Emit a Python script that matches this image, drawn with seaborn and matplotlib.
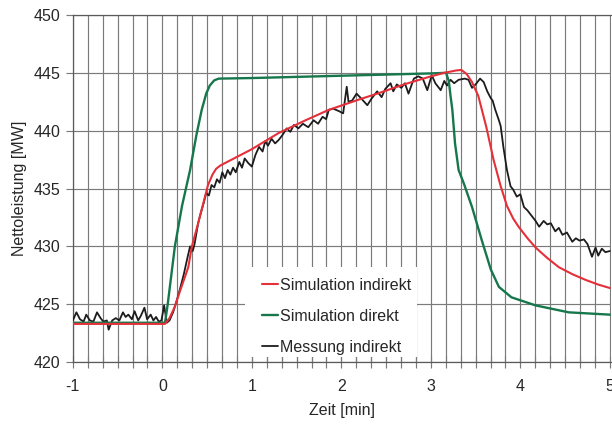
import numpy as np
import pandas as pd
import seaborn as sns
import matplotlib.pyplot as plt
from matplotlib.ticker import MultipleLocator
from matplotlib.patches import Rectangle
from matplotlib.lines import Line2D

# Simulation indirekt (red)
zeit_sim_ind = [-1.0, 0.03, 0.08, 0.14, 0.20, 0.29, 0.33, 0.40, 0.46, 0.51, 0.56, 0.60, 0.65,
                0.80, 1.00, 1.30, 1.60, 1.86, 2.20, 2.42, 2.70, 2.98, 3.15, 3.28, 3.34, 3.40,
                3.46, 3.53, 3.62, 3.70, 3.78, 3.85, 3.92, 3.98, 4.08, 4.17, 4.30, 4.43, 4.58,
                4.73, 4.87, 5.00]
leistung_sim_ind = [423.3, 423.3, 423.8, 424.8, 426.2, 428.2, 430.0, 432.0, 433.8, 435.3, 436.2,
                    436.7, 437.0, 437.6, 438.4, 439.8, 440.9, 441.8, 442.7, 443.25, 444.0, 444.65,
                    445.0, 445.2, 445.25, 444.9, 444.2, 443.0, 440.3, 437.5, 435.2, 433.5, 432.4,
                    431.7, 430.7, 429.9, 429.0, 428.2, 427.6, 427.1, 426.7, 426.4]

# Simulation direkt (green)
zeit_sim_dir = [-1.0, 0.03, 0.06, 0.10, 0.14, 0.22, 0.31, 0.38, 0.44, 0.49, 0.53, 0.58, 0.63,
                1.00, 2.00, 3.00, 3.17, 3.20, 3.22, 3.24, 3.27, 3.31, 3.37, 3.46, 3.57, 3.67,
                3.76, 3.90, 4.17, 4.54, 5.00]
leistung_sim_dir = [423.4, 423.4, 425.0, 427.5, 430.0, 433.5, 436.6, 439.6, 441.8, 443.2, 443.9,
                    444.35, 444.5, 444.55, 444.75, 444.95, 445.0, 444.3, 443.0, 441.8, 438.9,
                    436.6, 435.4, 433.4, 430.5, 428.0, 426.5, 425.6, 424.9, 424.3, 424.1]

# Messung indirekt (black)
zeit_mess = [-1.00, -0.96, -0.92, -0.88, -0.85, -0.81, -0.77, -0.73, -0.69, -0.66, -0.62, -0.60,
             -0.56, -0.52, -0.48, -0.44, -0.41, -0.38, -0.34, -0.31, -0.27, -0.24, -0.20, -0.17,
             -0.13, -0.10, -0.07, -0.04, -0.01, 0.02, 0.05, 0.08, 0.12, 0.16, 0.20, 0.24, 0.28,
             0.31, 0.34, 0.36, 0.40, 0.43, 0.46, 0.49, 0.52, 0.55, 0.58, 0.61, 0.64, 0.67, 0.70,
             0.73, 0.76, 0.79, 0.82, 0.86, 0.89, 0.92, 0.96, 1.00, 1.04, 1.08, 1.12, 1.15, 1.18,
             1.22, 1.26, 1.30, 1.34, 1.39, 1.43, 1.47, 1.52, 1.57, 1.63, 1.69, 1.74, 1.79, 1.83,
             1.86, 1.91, 1.97, 2.02, 2.06, 2.08, 2.12, 2.17, 2.22, 2.29, 2.34, 2.40, 2.45, 2.49,
             2.55, 2.58, 2.62, 2.67, 2.71, 2.75, 2.81, 2.86, 2.91, 2.96, 3.01, 3.05, 3.11, 3.15,
             3.18, 3.22, 3.26, 3.31, 3.38, 3.42, 3.46, 3.50, 3.55, 3.59, 3.63, 3.67, 3.69, 3.72,
             3.76, 3.78, 3.81, 3.85, 3.89, 3.92, 3.96, 4.00, 4.04, 4.08, 4.13, 4.17, 4.21, 4.26,
             4.30, 4.34, 4.39, 4.43, 4.47, 4.52, 4.58, 4.62, 4.66, 4.71, 4.75, 4.80, 4.84, 4.87,
             4.91, 4.95, 5.00]
leistung_mess = [423.6, 424.3, 423.7, 423.5, 424.1, 423.6, 423.5, 424.3, 423.8, 423.5, 423.6, 422.8,
                 423.6, 423.8, 423.6, 424.3, 423.9, 424.1, 423.7, 424.4, 423.6, 424.0, 424.7, 423.7,
                 424.1, 423.6, 423.9, 423.5, 423.6, 424.9, 423.4, 423.6, 424.3, 425.3, 426.4, 427.6,
                 429.0, 430.0, 429.6, 430.2, 432.0, 432.9, 433.7, 434.6, 434.4, 435.3, 435.1, 435.8,
                 435.5, 436.4, 435.9, 436.6, 436.2, 436.8, 436.4, 437.3, 436.8, 437.6, 437.2, 436.9,
                 437.9, 438.6, 438.2, 439.1, 438.7, 439.3, 438.9, 439.2, 439.6, 440.2, 439.9, 440.5,
                 440.2, 440.6, 440.3, 440.9, 440.6, 441.2, 441.0, 441.8, 441.9, 441.7, 441.5, 443.8,
                 442.5, 442.6, 443.2, 442.8, 442.2, 442.8, 443.4, 442.9, 443.6, 444.1, 443.4, 444.0,
                 443.7, 444.1, 443.2, 444.5, 444.7, 444.5, 443.5, 444.8, 444.1, 443.5, 444.3, 443.9,
                 444.4, 444.1, 444.4, 444.5, 444.4, 443.7, 444.0, 444.5, 444.2, 443.4, 442.8, 442.6,
                 441.8, 440.9, 440.4, 438.6, 436.6, 435.2, 434.9, 434.3, 434.5, 433.4, 433.1, 432.6,
                 432.2, 431.7, 432.2, 431.9, 432.0, 431.3, 431.6, 431.0, 431.2, 430.4, 430.7, 430.5,
                 430.6, 430.2, 429.1, 429.9, 429.2, 429.8, 429.5, 429.6]

df_ind = pd.DataFrame({'Zeit': zeit_sim_ind, 'Leistung': leistung_sim_ind})
df_dir = pd.DataFrame({'Zeit': zeit_sim_dir, 'Leistung': leistung_sim_dir})
df_mess = pd.DataFrame({'Zeit': zeit_mess, 'Leistung': leistung_mess})

sns.set_style("ticks")
plt.rcParams['font.family'] = ['Liberation Sans', 'DejaVu Sans']
plt.rcParams['axes.axisbelow'] = True

fig = plt.figure(figsize=(6.12, 4.28), dpi=100)
ax = fig.add_axes([0.119, 0.154, 0.879, 0.811])

sns.lineplot(data=df_mess, x='Zeit', y='Leistung', ax=ax, color='#1c1c1c', lw=1.3,
             sort=False, estimator=None, zorder=3)
sns.lineplot(data=df_dir, x='Zeit', y='Leistung', ax=ax, color='#17774c', lw=1.7,
             sort=False, estimator=None, zorder=4)
sns.lineplot(data=df_ind, x='Zeit', y='Leistung', ax=ax, color='#e5303a', lw=1.5,
             sort=False, estimator=None, zorder=5)

ax.set_xlim(-1, 5.01)
ax.set_ylim(420, 450)
ax.xaxis.set_major_locator(MultipleLocator(1))
ax.xaxis.set_minor_locator(MultipleLocator(1 / 6))
ax.yaxis.set_major_locator(MultipleLocator(5))
grid_col = '#7a7a7a'
ax.grid(which='both', axis='x', color=grid_col, lw=0.85)
ax.grid(which='major', axis='y', color=grid_col, lw=0.85)
ax.tick_params(axis='x', which='both', direction='inout', length=9, width=0.85, color=grid_col,
               labelsize=11.5, pad=8)
ax.tick_params(axis='y', which='major', direction='out', length=5, width=0.85, color=grid_col,
               labelsize=11.5, pad=4)
for s in ['left', 'bottom', 'top']:
    ax.spines[s].set_color('#5a5a5a')
    ax.spines[s].set_linewidth(0.9)
ax.spines['right'].set_visible(False)
ax.set_xticks([-1, 0, 1, 2, 3, 4, 5])
ax.set_xticklabels(['-1', '0', '1', '2', '3', '4', '5'])

ax.set_xlabel('Zeit [min]', fontsize=11.5, labelpad=6)
ax.set_ylabel('Nettoleistung [MW]', fontsize=11.5, labelpad=5)

# white area behind the legend that hides the grid
ax.add_patch(Rectangle((0.92, 420.4), 1.93, 7.8, facecolor='white', edgecolor='none', zorder=1))

handles = [Line2D([], [], color='#e5303a', lw=1.5),
           Line2D([], [], color='#17774c', lw=1.7),
           Line2D([], [], color='#1c1c1c', lw=1.3)]
ax.legend(handles, ['Simulation indirekt', 'Simulation direkt', 'Messung indirekt'],
          loc='upper left', bbox_to_anchor=(0.351, 0.243), frameon=False, fontsize=11.5,
          handlelength=1.0, handletextpad=0.15, labelspacing=1.0, borderpad=0, borderaxespad=0)

fig.savefig('out.png', dpi=100)
